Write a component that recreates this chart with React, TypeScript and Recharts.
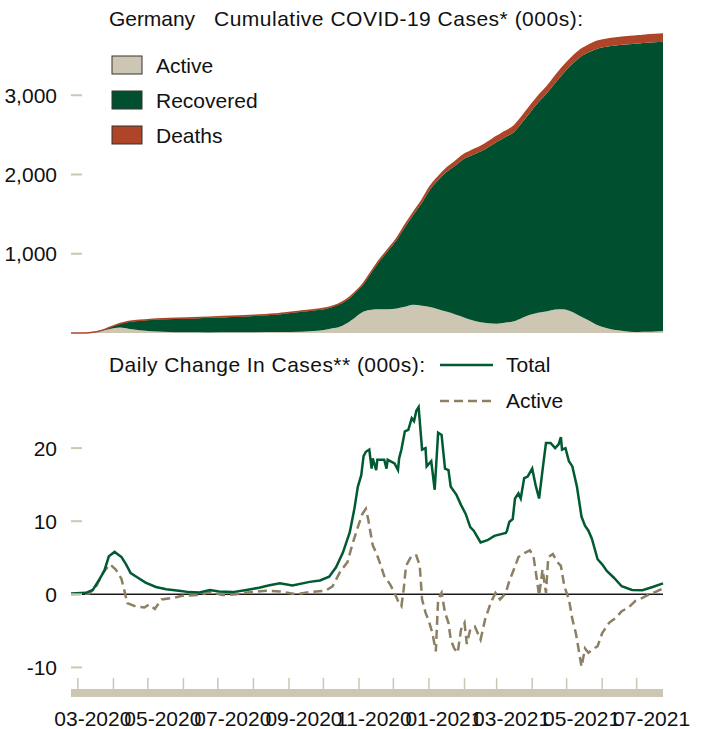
import React from 'react';
import { AreaChart, Area, LineChart, Line, XAxis, YAxis, ReferenceLine } from 'recharts';

const FONT = '"Liberation Sans", Arial, sans-serif';
const FS = 21;
const TAN = '#cdc6b3';
const GREEN = '#00502f';
const RUST = '#ae4528';
const LINE_GREEN = '#005a32';
const DASH_TAN = '#8c7f62';

// day index: 0 = 2020-02-24
const cumDays = [0, 12, 19, 25, 31, 37, 43, 50, 60, 80, 100, 120, 140, 160, 181, 201, 215, 226, 233, 240, 248, 255, 262, 269, 276, 284, 291, 298, 306, 313, 320, 327, 335, 342, 349, 357, 364, 371, 378, 386, 393, 400, 407, 415, 422, 429, 436, 444, 451, 458, 465, 473, 480, 487, 495, 502, 509, 516];
const activeCum = [0, 1, 8, 22, 42, 60, 70, 55, 35, 15, 8, 7, 8, 10, 12, 17, 28, 55, 72, 120, 200, 270, 294, 300, 300, 310, 330, 355, 345, 328, 300, 270, 235, 200, 165, 135, 122, 118, 130, 147, 190, 230, 255, 275, 295, 300, 270, 210, 160, 105, 70, 42, 28, 17, 13, 15, 20, 25];
const recoveredCum = [0, 0, 0, 3, 12, 28, 47, 85, 120, 158, 173, 184, 195, 206, 223, 251, 262, 265, 283, 290, 309, 347, 472, 609, 731, 867, 1005, 1129, 1301, 1483, 1627, 1757, 1877, 1992, 2074, 2155, 2226, 2292, 2338, 2389, 2464, 2550, 2650, 2753, 2861, 2976, 3112, 3273, 3378, 3480, 3538, 3583, 3608, 3627, 3640, 3647, 3649, 3650];
const deathsCum = [0, 0, 0, 0.1, 0.5, 1.5, 3, 5, 6.5, 8.3, 8.8, 9.1, 9.2, 9.3, 9.3, 9.4, 9.6, 9.8, 10, 10.3, 11, 12.5, 14, 16, 18.5, 21, 25, 29, 34, 38, 43, 48, 53, 57, 61, 64, 67, 70, 72, 74, 76, 78, 80, 82, 84, 86, 88, 90, 92, 93, 94, 95, 96, 97, 97.5, 98, 98.5, 99];

const totalDays = [0, 13, 19, 25, 29, 33, 38, 44, 48, 52, 58, 65, 74, 83, 94, 103, 112, 121, 129, 141, 153, 164, 172, 182, 193, 208, 217, 225, 231, 237, 243, 247, 250, 253, 255, 257, 260, 262, 263, 266, 267, 273, 275, 276, 282, 285, 286, 288, 291, 294, 297, 299, 301, 303, 306, 309, 310, 314, 317, 320, 323, 326, 329, 331, 336, 340, 344, 348, 351, 357, 363, 369, 379, 380, 382, 385, 387, 390, 392, 395, 398, 402, 405, 408, 411, 414, 418, 422, 425, 427, 428, 431, 434, 437, 441, 445, 448, 451, 454, 459, 463, 467, 473, 480, 489, 498, 507, 516];
const totalChange = [0.1, 0.2, 0.6, 2.1, 3.2, 5.2, 5.8, 5.1, 4.1, 2.9, 2.3, 1.6, 1.0, 0.7, 0.5, 0.3, 0.25, 0.6, 0.4, 0.3, 0.6, 0.9, 1.2, 1.5, 1.2, 1.7, 1.9, 2.4, 3.7, 5.7, 8.5, 11.7, 14.7, 16.3, 18.9, 19.5, 19.8, 17.2, 18.6, 17.0, 18.4, 18.4, 17.2, 18.4, 17.9, 17.0, 18.6, 19.8, 22.3, 22.5, 24.1, 23.7, 25.1, 25.6, 19.8, 20.0, 17.5, 18.2, 14.3, 22.1, 21.8, 17.2, 17.0, 14.7, 13.6, 12.2, 11.0, 9.2, 8.7, 7.1, 7.4, 8.0, 8.4, 8.7, 9.9, 10.3, 13.1, 13.8, 13.1, 15.9, 16.1, 17.2, 14.9, 13.1, 17.0, 20.7, 20.7, 20.0, 20.5, 21.5, 19.8, 20.0, 18.2, 17.5, 14.7, 10.6, 9.4, 8.7, 7.6, 4.8, 4.1, 3.2, 2.3, 1.1, 0.6, 0.55, 1.0, 1.5];

const activeDays = [0, 16, 22, 28, 34, 39, 44, 47, 49, 57, 64, 68, 73, 79, 89, 97, 112, 121, 132, 144, 156, 170, 182, 196, 208, 222, 228, 235, 241, 245, 250, 254, 257, 259, 261, 263, 266, 269, 273, 278, 282, 285, 288, 290, 292, 297, 301, 304, 306, 309, 312, 315, 318, 320, 323, 326, 329, 331, 334, 337, 340, 343, 345, 348, 352, 357, 361, 366, 370, 374, 379, 382, 386, 390, 396, 400, 403, 406, 408, 411, 414, 416, 420, 424, 427, 430, 432, 434, 437, 440, 442, 445, 448, 451, 456, 459, 463, 469, 475, 480, 486, 492, 498, 504, 509, 516];
const activeChange = [0, 0.1, 1.1, 3.0, 4.1, 3.4, 2.1, 0.2, -1.2, -1.7, -1.8, -1.4, -2.0, -0.7, -0.5, -0.2, -0.1, 0.3, -0.1, 0, 0.3, 0.5, 0.4, 0, 0.3, 0.5, 1.1, 3.2, 4.4, 6.7, 9.2, 11.0, 11.7, 10.3, 8.5, 6.7, 5.7, 4.4, 2.5, 1.4, 0.2, -0.9, -1.6, 0.7, 3.9, 5.3, 5.3, 3.9, -0.7, -2.5, -3.7, -5.3, -7.8, -0.7, 0.2, -2.5, -3.9, -6.2, -7.4, -8.0, -4.8, -3.9, -6.8, -4.8, -4.4, -6.2, -3.4, -1.1, 0.2, -0.7, 0.2, 1.8, 3.4, 5.1, 5.7, 6.0, 5.3, 2.1, -0.2, 3.4, 0.2, 5.1, 5.5, 4.4, 3.9, 1.1, 0.2, -0.7, -3.4, -5.3, -7.1, -9.9, -7.4, -8.0, -7.4, -7.1, -5.3, -3.9, -3.2, -2.3, -1.8, -0.9, -0.5, 0, 0.3, 0.8];

const monthTicks = [6, 37, 67, 98, 128, 159, 190, 220, 251, 281, 312, 343, 371, 402, 432, 463, 493];
const monthLabels = ['03-2020', '05-2020', '07-2020', '09-2020', '11-2020', '01-2021', '03-2021', '05-2021', '07-2021'];
const cumTicks = [1000, 2000, 3000];
const changeTicks = [-10, 0, 10, 20];

const cumData = cumDays.map((d, i) => ({
  day: d,
  active: activeCum[i],
  recovered: recoveredCum[i],
  deaths: deathsCum[i],
}));

const changeData = Array.from(new Set([...totalDays, ...activeDays]))
  .sort((a, b) => a - b)
  .map((d) => {
    const ti = totalDays.indexOf(d);
    const ai = activeDays.indexOf(d);
    return {
      day: d,
      total: ti >= 0 ? totalChange[ti] : null,
      active: ai >= 0 ? activeChange[ai] : null,
    };
  });

const fmtThousands = (v: number) => v.toLocaleString('en-US');

const YTick = ({ x, y, payload, side, mark }: any) => {
  const left = side === 'left';
  return (
    <g>
      {mark && (
        <line
          x1={left ? x + 14 : x - 23}
          x2={left ? x + 25 : x - 12}
          y1={y}
          y2={y}
          stroke={TAN}
          strokeWidth={2}
        />
      )}
      <text x={x} y={y} dy={7.5} textAnchor={left ? 'end' : 'start'} fontSize={FS} fill="#111" fontFamily={FONT}>
        {fmtThousands(payload.value)}
      </text>
    </g>
  );
};

const XTick = ({ x, y, payload }: any) => {
  const i = monthTicks.indexOf(payload.value);
  return (
    <g>
      <line x1={x} x2={x} y1={y - 15} y2={y - 4} stroke={TAN} strokeWidth={1.5} />
      {i % 2 === 0 && (
        <text x={x + 15} y={y + 33} textAnchor="middle" fontSize={FS} fill="#111" fontFamily={FONT}>
          {monthLabels[i / 2]}
        </text>
      )}
    </g>
  );
};

const txt = { fontSize: FS, fill: '#111', fontFamily: FONT };

const App: React.FC = () => {
  return (
    <div style={{ position: 'absolute', left: 0, top: 0, width: 728, height: 729, background: '#fff' }}>
      <div style={{ position: 'absolute', left: 0, top: 0 }}>
        <AreaChart width={728} height={345} data={cumData} margin={{ top: 16, right: 5, bottom: 12, left: 11 }}>
          <XAxis dataKey="day" type="number" domain={[0, 516]} hide />
          <YAxis
            yAxisId="left"
            orientation="left"
            width={60}
            domain={[0, 4000]}
            ticks={cumTicks}
            axisLine={false}
            tickLine={false}
            tickSize={0}
            tickMargin={14}
            tick={(p: any) => <YTick {...p} side="left" mark />}
          />
          <YAxis
            yAxisId="right"
            orientation="right"
            width={60}
            domain={[0, 4000]}
            ticks={cumTicks}
            axisLine={false}
            tickLine={false}
            tickSize={0}
            tickMargin={12}
            tick={(p: any) => <YTick {...p} side="right" mark={false} />}
          />
          <Area yAxisId="left" type="monotone" dataKey="active" stackId="1" stroke="none" fill={TAN} fillOpacity={1} isAnimationActive={false} />
          <Area yAxisId="left" type="monotone" dataKey="recovered" stackId="1" stroke="none" fill={GREEN} fillOpacity={1} isAnimationActive={false} />
          <Area yAxisId="left" type="monotone" dataKey="deaths" stackId="1" stroke={RUST} strokeWidth={1.5} fill={RUST} fillOpacity={1} isAnimationActive={false} />
        </AreaChart>
      </div>

      <div style={{ position: 'absolute', left: 0, top: 350 }}>
        <LineChart width={728} height={379} data={changeData} margin={{ top: 25, right: 5, bottom: 0, left: 11 }}>
          <XAxis
            dataKey="day"
            type="number"
            domain={[0, 516]}
            ticks={monthTicks}
            interval={0}
            height={36}
            axisLine={{ stroke: TAN, strokeWidth: 8 }}
            tickLine={false}
            tickSize={0}
            tickMargin={0}
            tick={(p: any) => <XTick {...p} />}
          />
          <YAxis
            yAxisId="left"
            orientation="left"
            width={60}
            domain={[-13.5, 30]}
            ticks={changeTicks}
            axisLine={false}
            tickLine={false}
            tickSize={0}
            tickMargin={14}
            tick={(p: any) => <YTick {...p} side="left" mark />}
          />
          <YAxis
            yAxisId="right"
            orientation="right"
            width={60}
            domain={[-13.5, 30]}
            ticks={changeTicks}
            axisLine={false}
            tickLine={false}
            tickSize={0}
            tickMargin={12}
            tick={(p: any) => <YTick {...p} side="right" mark />}
          />
          <ReferenceLine yAxisId="left" y={0} stroke="#1a1a1a" strokeWidth={1.5} />
          <Line yAxisId="left" type="linear" dataKey="active" stroke={DASH_TAN} strokeWidth={2.5} strokeDasharray="9 5" dot={false} connectNulls isAnimationActive={false} />
          <Line yAxisId="left" type="linear" dataKey="total" stroke={LINE_GREEN} strokeWidth={2.5} dot={false} connectNulls isAnimationActive={false} />
        </LineChart>
      </div>

      <svg width={728} height={729} style={{ position: 'absolute', left: 0, top: 0, pointerEvents: 'none' }}>
        <text x={109} y={26} {...txt} textLength={86} lengthAdjust="spacing">Germany</text>
        <text x={214} y={26} {...txt} textLength={369} lengthAdjust="spacing">Cumulative COVID-19 Cases* (000s):</text>

        <rect x={112} y={56} width={30} height={18} fill={TAN} stroke="#333" strokeWidth={1} />
        <text x={156} y={73} {...txt}>Active</text>
        <rect x={112} y={91} width={30} height={18} fill={GREEN} stroke="#333" strokeWidth={1} />
        <text x={156} y={108} {...txt}>Recovered</text>
        <rect x={112} y={126} width={30} height={18} fill={RUST} stroke="#333" strokeWidth={1} />
        <text x={156} y={143} {...txt}>Deaths</text>

        <text x={109} y={372} {...txt} textLength={316} lengthAdjust="spacing">Daily Change In Cases** (000s):</text>
        <line x1={440} x2={493} y1={365} y2={365} stroke={LINE_GREEN} strokeWidth={2.5} />
        <text x={506} y={372} {...txt}>Total</text>
        <line x1={440} x2={493} y1={401} y2={401} stroke={DASH_TAN} strokeWidth={2.5} strokeDasharray="9 5" />
        <text x={506} y={408} {...txt}>Active</text>
      </svg>
    </div>
  );
};

export default App;
